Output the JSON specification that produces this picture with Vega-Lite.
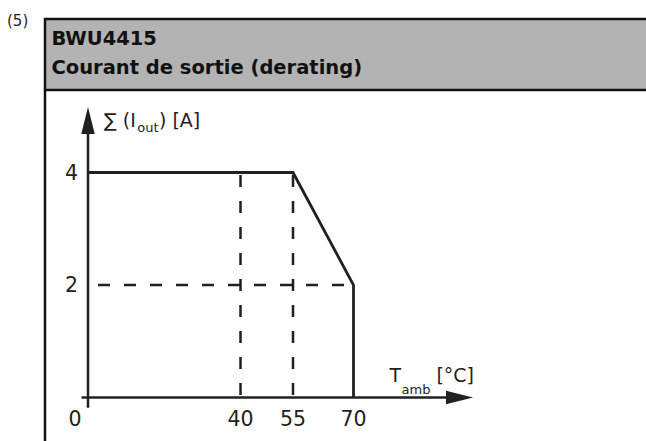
{
  "$schema": "https://vega.github.io/schema/vega-lite/v6.json",
  "width": 646,
  "height": 441,
  "padding": 0,
  "autosize": {"type": "none"},
  "background": "white",
  "config": {"view": {"stroke": null}, "font": "DejaVu Sans"},
  "datasets": {
    "header": [{"x": -12, "x2": 170, "y": 5.5, "y2": 6.8}],
    "frameLeft": [{"x": -12, "y": -1, "y2": 5.5}],
    "curve": [
      {"x": 0, "y": 4, "seq": 1},
      {"x": 55, "y": 4, "seq": 2},
      {"x": 70, "y": 2, "seq": 3},
      {"x": 70, "y": 0, "seq": 4}
    ],
    "guidesV": [{"x": 40, "y": 4, "y2": 0}, {"x": 55, "y": 4, "y2": 0}],
    "guidesH": [{"x": 0, "x2": 70, "y": 2}],
    "axes": [
      {"x": -1.8, "x2": 96, "y": 0, "y2": 0},
      {"x": 0, "x2": 0, "y": -0.18, "y2": 5.0}
    ],
    "arrows": [{"x": 100, "y": 0, "dir": "right"}, {"x": 0, "y": 5.19, "dir": "up"}],
    "xlabels": [{"x": 40, "y": 0, "label": "40"}, {"x": 55, "y": 0, "label": "55"}, {"x": 70, "y": 0, "label": "70"}],
    "origin": [{"x": 0, "y": 0, "label": "0"}],
    "ylabels": [{"x": 0, "y": 4, "label": "4"}, {"x": 0, "y": 2, "label": "2"}],
    "fig": [{"x": -12, "y": 6.8, "t": "(5)"}],
    "title1": [{"x": -12, "y": 6.8, "t": "BWU4415"}],
    "title2": [{"x": -12, "y": 6.8, "t": "Courant de sortie (derating)"}],
    "yt1": [{"x": 0, "y": 5.19, "t": "∑ (I"}],
    "yt2": [{"x": 0, "y": 5.19, "t": "out"}],
    "yt3": [{"x": 0, "y": 5.19, "t": ") [A]"}],
    "xt1": [{"x": 100, "y": 0, "t": "T"}],
    "xt2": [{"x": 100, "y": 0, "t": "amb"}],
    "xt3": [{"x": 100, "y": 0, "t": "[°C]"}]
  },
  "encoding": {
    "x": {"field": "x", "type": "quantitative", "axis": null,
      "scale": {"domain": [-12, 0, 40, 55, 70, 100, 160], "range": [45, 88, 240.5, 293, 353.5, 473, 646], "nice": false, "zero": false}},
    "y": {"field": "y", "type": "quantitative", "axis": null,
      "scale": {"domain": [0, 4, 5.5, 6.8], "range": [397.5, 172.5, 90, 19], "nice": false, "zero": false}}
  },
  "layer": [
    {"data": {"name": "header"}, "mark": {"type": "rect", "fill": "#b3b3b3", "stroke": "#111111", "strokeWidth": 2.5},
      "encoding": {"x2": {"field": "x2"}, "y2": {"field": "y2"}}},
    {"data": {"name": "frameLeft"}, "mark": {"type": "rule", "color": "#111111", "strokeWidth": 2.5},
      "encoding": {"y2": {"field": "y2"}}},
    {"data": {"name": "guidesV"}, "mark": {"type": "rule", "color": "#231f20", "strokeWidth": 2.5, "strokeDash": [12, 14], "strokeDashOffset": 23.5},
      "encoding": {"y2": {"field": "y2"}}},
    {"data": {"name": "guidesH"}, "mark": {"type": "rule", "color": "#231f20", "strokeWidth": 2.5, "strokeDash": [12, 14], "strokeDashOffset": 16},
      "encoding": {"x2": {"field": "x2"}}},
    {"data": {"name": "axes"}, "mark": {"type": "rule", "color": "#231f20", "strokeWidth": 2.5},
      "encoding": {"x2": {"field": "x2"}, "y2": {"field": "y2"}}},
    {"data": {"name": "curve"}, "mark": {"type": "line", "color": "#231f20", "strokeWidth": 2.8, "strokeJoin": "miter"},
      "encoding": {"order": {"field": "seq", "type": "quantitative"}}},
    {"data": {"name": "arrows"}, "mark": {"type": "point", "filled": true, "color": "#231f20", "opacity": 1, "size": 729, "strokeWidth": 0},
      "encoding": {"shape": {"field": "dir", "type": "nominal", "legend": null,
        "scale": {"domain": ["right", "up"], "range": ["M0,0L-2,-0.5L-2,0.5Z", "M0,0L-0.5,2L0.5,2Z"]}}}},
    {"data": {"name": "xlabels"}, "mark": {"type": "text", "fontSize": 20.5, "color": "#231f20", "align": "center", "baseline": "middle", "dy": 22},
      "encoding": {"text": {"field": "label"}}},
    {"data": {"name": "origin"}, "mark": {"type": "text", "fontSize": 20.5, "color": "#231f20", "align": "center", "baseline": "middle", "dx": -13, "dy": 22},
      "encoding": {"text": {"field": "label"}}},
    {"data": {"name": "ylabels"}, "mark": {"type": "text", "fontSize": 20.5, "color": "#231f20", "align": "right", "baseline": "middle", "dx": -10, "dy": 1},
      "encoding": {"text": {"field": "label"}}},
    {"data": {"name": "fig"}, "mark": {"type": "text", "fontSize": 15, "color": "#231f20", "align": "left", "baseline": "alphabetic", "dx": -38, "dy": 6.5},
      "encoding": {"text": {"field": "t"}}},
    {"data": {"name": "title1"}, "mark": {"type": "text", "fontSize": 19.5, "fontWeight": "bold", "color": "#111111", "align": "left", "baseline": "alphabetic", "dx": 6.5, "dy": 26},
      "encoding": {"text": {"field": "t"}}},
    {"data": {"name": "title2"}, "mark": {"type": "text", "fontSize": 19.5, "fontWeight": "bold", "color": "#111111", "align": "left", "baseline": "alphabetic", "dx": 6.5, "dy": 55},
      "encoding": {"text": {"field": "t"}}},
    {"data": {"name": "yt1"}, "mark": {"type": "text", "fontSize": 19, "color": "#231f20", "align": "left", "baseline": "alphabetic", "dx": 16, "dy": 20},
      "encoding": {"text": {"field": "t"}}},
    {"data": {"name": "yt2"}, "mark": {"type": "text", "fontSize": 13, "color": "#231f20", "align": "left", "baseline": "alphabetic", "dx": 49.3, "dy": 24.7},
      "encoding": {"text": {"field": "t"}}},
    {"data": {"name": "yt3"}, "mark": {"type": "text", "fontSize": 19, "color": "#231f20", "align": "left", "baseline": "alphabetic", "dx": 71, "dy": 20},
      "encoding": {"text": {"field": "t"}}},
    {"data": {"name": "xt1"}, "mark": {"type": "text", "fontSize": 19, "color": "#231f20", "align": "right", "baseline": "alphabetic", "dx": -72, "dy": -16},
      "encoding": {"text": {"field": "t"}}},
    {"data": {"name": "xt2"}, "mark": {"type": "text", "fontSize": 13, "color": "#231f20", "align": "right", "baseline": "alphabetic", "dx": -42.6, "dy": -3.5},
      "encoding": {"text": {"field": "t"}}},
    {"data": {"name": "xt3"}, "mark": {"type": "text", "fontSize": 19, "color": "#231f20", "align": "right", "baseline": "alphabetic", "dx": 1, "dy": -16},
      "encoding": {"text": {"field": "t"}}}
  ]
}
